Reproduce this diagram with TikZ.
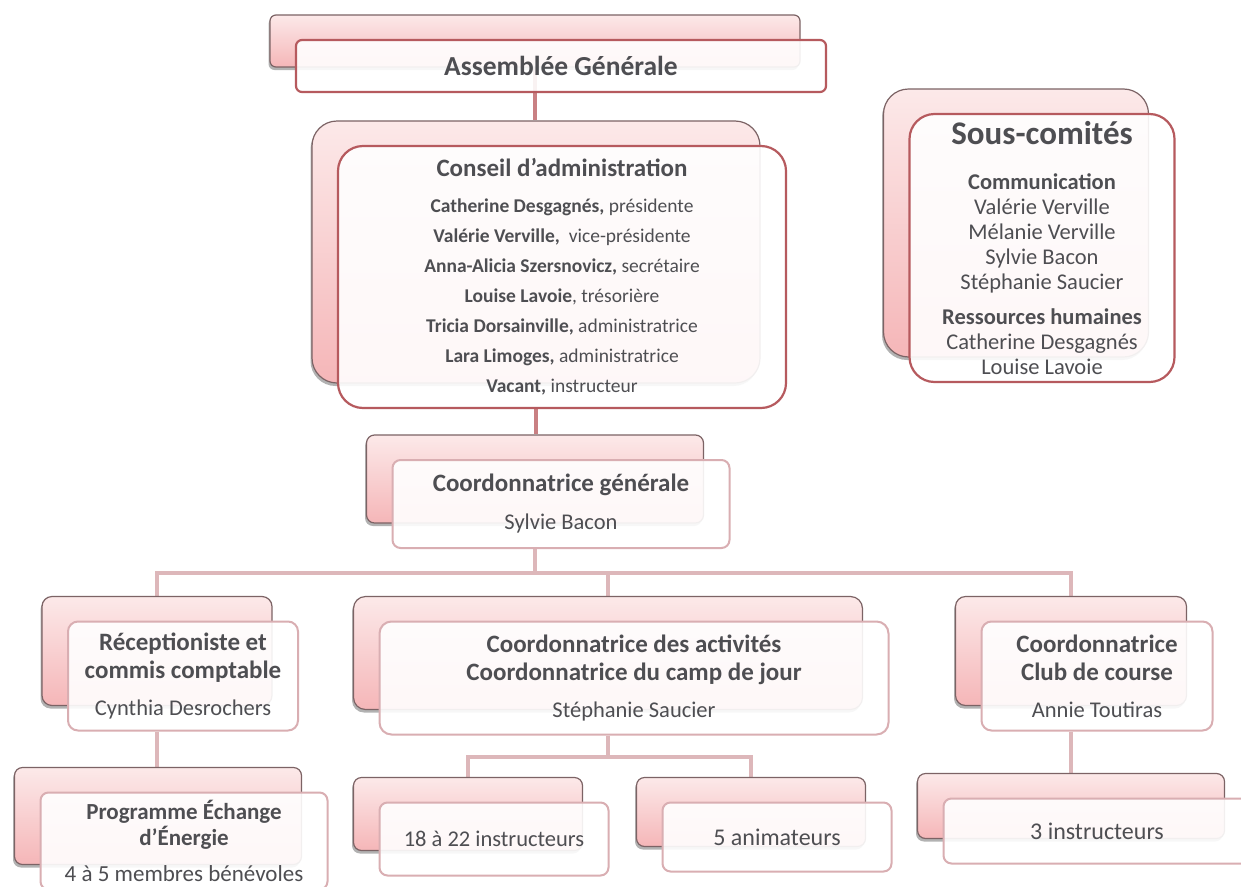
\documentclass[tikz,border=0pt]{standalone}
\usepackage{fontspec}
\setmainfont{Carlito}
\usepackage{tikz}
\usetikzlibrary{positioning,calc,shadows}

\definecolor{txtgray}{HTML}{4E4E52}
\definecolor{backtop}{HTML}{FCE9E9}
\definecolor{backbot}{HTML}{F5B6B8}
\definecolor{backline}{HTML}{7C6365}
\definecolor{frontline}{HTML}{D9AEB2}
\definecolor{frontdark}{HTML}{B65A5E}
\definecolor{linkdark}{HTML}{C98083}
\definecolor{linklight}{HTML}{DDB7BA}

\pgfdeclarelayer{links}
\pgfsetlayers{links,main}

\tikzset{
  backbox/.style={draw=backline, line width=1.2pt, top color=backtop, bottom color=backbot,
    drop shadow={shadow xshift=-1.5pt, shadow yshift=-3pt, fill=black, opacity=0.3}, inner sep=0pt},
  frontbox/.style={draw=frontline, line width=2pt, fill=white, fill opacity=0.9, text opacity=1,
    text=txtgray, align=center, inner sep=0pt},
  darkedge/.style={draw=frontdark, line width=2.2pt},
  linkdk/.style={draw=linkdark, line width=4pt},
  linklt/.style={draw=linklight, line width=4pt}
}

% title lines
\newcommand{\ttl}{\fontsize{25}{28}\selectfont\bfseries}

% #1 name, #2 centre of the front box, #3 width, #4 height, #5 corner radius, #6 front style, #7 text
\newcommand{\orgpair}[7]{%
  \node[backbox, rounded corners=#5, minimum width=#3, minimum height=#4] (#1B) at ($#2+(-26,-25)$) {};
  \node[frontbox, rounded corners=#5, minimum width=#3, minimum height=#4, #6] (#1) at #2 {#7};
}

\begin{document}
\begin{tikzpicture}[x=1pt,y=-1pt]
\useasboundingbox (0,0) rectangle (1241,886);

% top of the chart
\orgpair{ag}{(561,66)}{530}{52}{6}{darkedge}{\fontsize{27.5}{30}\selectfont\bfseries Assemblée Générale}
\orgpair{cons}{(562,277)}{448}{262}{25}{darkedge, font=\fontsize{19.5}{30}\selectfont}{%
  \ttl Conseil d’administration\\[6pt]
  \textbf{Catherine Desgagnés,} présidente\\
  \textbf{Valérie Verville,}\ \ vice-présidente\\
  \textbf{Anna-Alicia Szersnovicz,} secrétaire\\
  \textbf{Louise Lavoie}, trésorière\\
  \textbf{Tricia Dorsainville,} administratrice\\
  \textbf{Lara Limoges,} administratrice\\
  \textbf{Vacant,} instructeur}
\orgpair{sc}{(1042,248)}{265}{268}{25}{darkedge, font=\fontsize{22.5}{25}\selectfont}{%
  \fontsize{33}{33}\selectfont\bfseries Sous-comités\\[20pt]
  \textbf{Communication}\\ Valérie Verville\\ Mélanie Verville\\ Sylvie Bacon\\ Stéphanie Saucier\\[10pt]
  \textbf{Ressources humaines}\\ Catherine Desgagnés\\ Louise Lavoie}
\orgpair{cg}{(561,504)}{337}{88}{8}{font=\fontsize{22.5}{30}\selectfont}{%
  \ttl Coordonnatrice générale\\[8pt] Sylvie Bacon}

% second row
\orgpair{rec}{(183,676)}{230}{109}{10}{font=\fontsize{22.5}{28}\selectfont}{%
  \ttl Réceptioniste et\\ \ttl commis comptable\\[9pt] Cynthia Desrochers}
\orgpair{act}{(634,678)}{509}{113}{12}{font=\fontsize{22.5}{28}\selectfont}{%
  \ttl Coordonnatrice des activités\\ \ttl Coordonnatrice du camp de jour\\[9pt] Stéphanie Saucier}
\orgpair{crs}{(1097,676)}{231}{109}{10}{font=\fontsize{22.5}{28}\selectfont}{%
  \ttl Coordonnatrice\\ \ttl Club de course\\[9pt] Annie Toutiras}

% third row
\orgpair{prg}{(184,841)}{287}{97}{8}{font=\fontsize{23}{26}\selectfont}{%
  \bfseries Programme Échange\\ \bfseries d'Énergie\\[10pt] 4 à 5 membres bénévoles}
\orgpair{ins}{(494,839)}{229}{73}{8}{font=\fontsize{22.5}{25}\selectfont}{18 à 22 instructeurs}
\orgpair{ani}{(777,837)}{229}{69}{8}{font=\fontsize{24}{25}\selectfont}{5 animateurs}
\orgpair{cc}{(1097,831)}{307}{65}{8}{font=\fontsize{24}{25}\selectfont}{3 instructeurs}

\coordinate (busA) at (0,573);
\coordinate (busB) at (0,757);

\begin{pgfonlayer}{links}
\fill[white] (0,0) rectangle (1241,886);
\draw[linkdk] (agB.center) -- (agB.center |- consB.north);
\draw[linkdk] (consB.center |- cons.south) -- (consB.center |- cgB.north);
\draw[linklt] (cgB.center |- cg.south) -- (cgB.center |- busA);
\draw[linklt] (recB.north) -- (recB.north |- busA) -- (crsB.north |- busA) -- (crsB.north);
\draw[linklt] (actB.north |- busA) -- (actB.north);
\draw[linklt] (recB.center |- rec.south) -- (recB.center |- prgB.north);
\draw[linklt] (actB.center |- act.south) -- (actB.center |- busB);
\draw[linklt] (insB.north) -- (insB.north |- busB) -- (aniB.north |- busB) -- (aniB.north);
\draw[linklt] (crsB.center |- crs.south) -- (crsB.center |- ccB.north);
\end{pgfonlayer}
\end{tikzpicture}
\end{document}
